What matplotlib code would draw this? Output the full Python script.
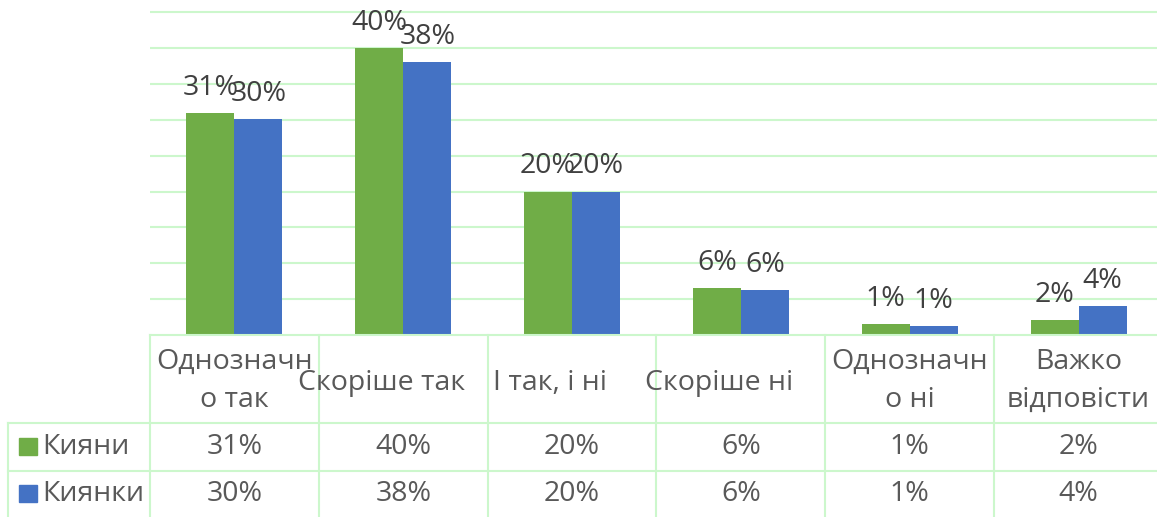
import matplotlib
matplotlib.use('Agg')
import matplotlib.pyplot as plt
from matplotlib.patches import Rectangle
from matplotlib.transforms import blended_transform_factory

plt.rcParams['font.family'] = ['Open Sans', 'DejaVu Sans']

categories = ['Однозначн\nо так', 'Скоріше так', 'І так, і ні', 'Скоріше ні', 'Однозначн\nо ні', 'Важко\nвідповісти']
series_names = ['Кияни', 'Киянки']
kyiany = [31.0, 40.0, 20.0, 6.6, 1.5, 2.1]
kyianky = [30.1, 38.0, 20.0, 6.3, 1.2, 4.1]
labels_kyiany = ['31%', '40%', '20%', '6%', '1%', '2%']
labels_kyianky = ['30%', '38%', '20%', '6%', '1%', '4%']

green = '#70AD47'
blue = '#4472C4'
grid_col = '#CCF7CC'
txt_col = '#595959'
lbl_col = '#404040'
fs = 20.5

W, H = 1157, 517
fig = plt.figure(figsize=(W / 100, H / 100), dpi=100)

# pixel layout of the plot area
base_px, top_px = 335, 5
left_px, right_px = 150, 1163
ax = fig.add_axes([left_px / W, (H - base_px) / H,
                   (right_px - left_px) / W, (base_px - top_px) / H])
ax.set_xlim(-0.5, len(categories) - 0.5)
ax.set_ylim(0, 46)
ax.set_yticks(range(5, 46, 5))
ax.yaxis.grid(True, color=grid_col, linewidth=1.5)
ax.set_axisbelow(True)
ax.tick_params(left=False, bottom=False, labelleft=False, labelbottom=False)
for s in ax.spines.values():
    s.set_visible(False)

w = 0.284
xs = range(len(categories))
ax.bar([x - w / 2 for x in xs], kyiany, width=w, color=green)
ax.bar([x + w / 2 for x in xs], kyianky, width=w, color=blue)
for x, v, l in zip(xs, kyiany, labels_kyiany):
    ax.annotate(l, (x - w / 2, v), xytext=(0, 13), textcoords='offset points',
                ha='center', va='baseline', fontsize=fs, color=lbl_col)
for x, v, l in zip(xs, kyianky, labels_kyianky):
    ax.annotate(l, (x + w / 2, v), xytext=(0, 13), textcoords='offset points',
                ha='center', va='baseline', fontsize=fs, color=lbl_col)

# data table below the plot, in pixel coordinates
tab = fig.add_axes([0, 0, 1, 1])
tab.set_xlim(0, W)
tab.set_ylim(H, 0)
tab.axis('off')
tab.patch.set_alpha(0)
bt = blended_transform_factory(ax.transData, tab.transData)

lw = 1.5
tab.plot([left_px, W], [base_px, base_px], color=grid_col, lw=lw)
for y in (423, 471):
    tab.plot([8, W], [y, y], color=grid_col, lw=lw)
tab.plot([8, 8], [423, H], color=grid_col, lw=lw)
for i in range(len(categories)):
    tab.plot([i - 0.5, i - 0.5], [base_px, H], color=grid_col, lw=lw, transform=bt)

for i, c in enumerate(categories):
    if '\n' in c:
        tab.text(i, 381, c, transform=bt, ha='center', va='center', fontsize=fs,
                 color=txt_col, linespacing=1.45)
    else:
        tab.text(i - 0.13, 383, c, transform=bt, ha='center', va='center', fontsize=fs,
                 color=txt_col)

rows = [(series_names[0], green, labels_kyiany, 447),
        (series_names[1], blue, labels_kyianky, 494)]
for name, col, labs, yc in rows:
    tab.add_patch(Rectangle((19, yc - 9), 18, 17, color=col))
    tab.text(42, yc, name, ha='left', va='center', fontsize=fs, color=txt_col)
    for i, l in enumerate(labs):
        tab.text(i, yc, l, transform=bt, ha='center', va='center', fontsize=fs, color=txt_col)

fig.savefig('out.png', dpi=100)
